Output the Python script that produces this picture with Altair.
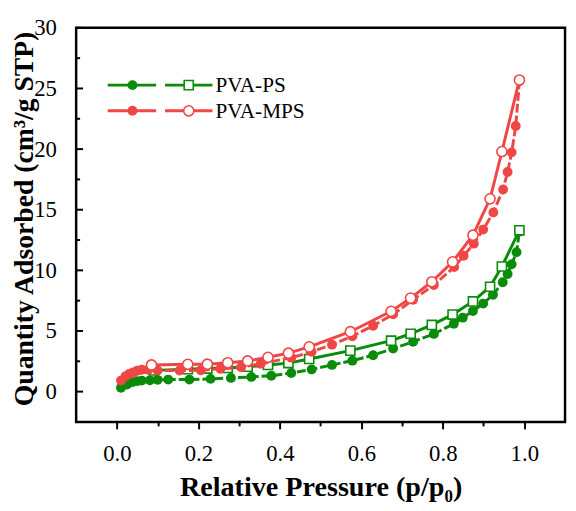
import altair as alt
import pandas as pd

# ---------------- data ----------------
ps_ads_x = [0.010, 0.025, 0.037, 0.049, 0.061, 0.081, 0.100, 0.126, 0.178, 0.230, 0.280, 0.330,
            0.379, 0.428, 0.478, 0.528, 0.578, 0.629, 0.678, 0.727, 0.778, 0.827, 0.849, 0.874,
            0.899, 0.923, 0.947, 0.959, 0.969, 0.981, 0.988]
ps_ads_y = [0.32, 0.59, 0.78, 0.86, 0.91, 0.93, 0.97, 0.99, 0.99, 1.05, 1.13, 1.21,
            1.31, 1.53, 1.83, 2.20, 2.55, 3.00, 3.55, 4.11, 4.76, 5.59, 6.10, 6.64,
            7.26, 7.98, 9.02, 9.70, 10.50, 11.50, 13.20]

ps_des_x = [0.988, 0.945, 0.916, 0.874, 0.824, 0.773, 0.721, 0.673, 0.573, 0.472, 0.421,
            0.371, 0.321, 0.272, 0.222, 0.174, 0.090]
ps_des_y = [13.30, 10.32, 8.65, 7.44, 6.35, 5.50, 4.77, 4.20, 3.38, 2.69, 2.35,
            2.20, 2.05, 1.95, 1.90, 1.85, 1.75]

mps_ads_x = [0.010, 0.021, 0.030, 0.040, 0.050, 0.061, 0.077, 0.100, 0.154, 0.206, 0.254, 0.305,
             0.353, 0.428, 0.478, 0.528, 0.578, 0.629, 0.678, 0.727, 0.778, 0.828, 0.851, 0.876,
             0.899, 0.924, 0.948, 0.959, 0.969, 0.979, 0.988]
mps_ads_y = [0.91, 1.26, 1.45, 1.59, 1.72, 1.80, 1.80, 1.74, 1.74, 1.76, 1.88, 2.00,
             2.30, 2.80, 3.28, 3.87, 4.57, 5.43, 6.37, 7.58, 8.79, 10.27, 11.20, 12.20,
             13.36, 14.78, 16.67, 18.12, 19.73, 21.90, 25.60]

mps_des_x = [0.988, 0.945, 0.916, 0.874, 0.824, 0.773, 0.721, 0.673, 0.573, 0.472, 0.421,
             0.371, 0.321, 0.272, 0.222, 0.174, 0.085]
mps_des_y = [25.70, 19.80, 15.90, 12.90, 10.70, 9.06, 7.71, 6.62, 4.94, 3.69, 3.17,
             2.83, 2.53, 2.38, 2.26, 2.25, 2.20]

series_names = ["PVA-PS", "PVA-MPS"]
x_ticks = [0.0, 0.1, 0.2, 0.3, 0.4, 0.5, 0.6, 0.7, 0.8, 0.9, 1.0]
y_major = [0, 5, 10, 15, 20, 25, 30]
y_minor = [2.5, 7.5, 12.5, 17.5, 22.5, 27.5]

GREEN = "#0a8c0a"
RED = "#f04646"
FONT = "Liberation Serif"
DOT = 100
OPEN_C = 105
SQ = 85

W, H = 495, 399
xscale = alt.Scale(domain=[-0.1, 1.1], nice=False, zero=False)
yscale = alt.Scale(domain=[-2.5, 30], nice=False, zero=False)

xaxis = alt.Axis(
    title="Relative Pressure (p/p₀)", values=x_ticks,
    labelExpr="round(datum.value*10) % 2 == 0 ? format(datum.value, '.1f') : ''",
    tickSize={"condition": {"test": "round(datum.value*10) % 2 == 0", "value": 7}, "value": 4},
    tickWidth=2, tickColor="black", domain=False, grid=False,
    labelFont=FONT, labelFontSize=23, labelColor="black", labelPadding=14,
    titleFont=FONT, titleFontSize=28.5, titleFontWeight="bold", titleColor="black", titlePadding=8,
)
yaxis = alt.Axis(
    title="Quantity Adsorbed (cm³/g STP)", values=y_major, ticks=False, tickSize=0,
    domain=False, grid=False,
    labelFont=FONT, labelFontSize=23, labelColor="black", labelPadding=20,
    titleFont=FONT, titleFontSize=28, titleFontWeight="bold", titleColor="black", titlePadding=-5,
    titleY=193,
)

X = lambda: alt.X("x:Q", scale=xscale, axis=xaxis)
Y = lambda: alt.Y("y:Q", scale=yscale, axis=yaxis)


def series(xs, ys, color, filled, shape, dashed):
    d = pd.DataFrame({"x": xs, "y": ys, "i": list(range(len(xs)))})
    line_kw = dict(color=color, strokeWidth=3)
    if dashed:
        line_kw["strokeDash"] = [9, 3]
    line = alt.Chart(d).mark_line(**line_kw).encode(x=X(), y=Y(), order="i:Q")
    if filled:
        pts = alt.Chart(d).mark_point(shape=shape, filled=True, size=DOT, color=color, opacity=1)
    else:
        pts = alt.Chart(d).mark_point(shape=shape, filled=True, size=OPEN_C if shape == "circle" else SQ,
                                      fill="white", stroke=color, strokeWidth=1.6, opacity=1)
    pts = pts.encode(x=X(), y=Y())
    return [line, pts]


layers = []
layers += series(ps_ads_x, ps_ads_y, GREEN, True, "circle", True)
layers += series(ps_des_x, ps_des_y, GREEN, False, "square", False)
layers += series(mps_ads_x, mps_ads_y, RED, True, "circle", True)
layers += series(mps_des_x, mps_des_y, RED, False, "circle", False)

# inward y ticks
ymaj = alt.Chart(pd.DataFrame({"y": y_major})).mark_rule(color="black", strokeWidth=2).encode(
    x=alt.value(0), x2=alt.value(7), y=Y())
ymin = alt.Chart(pd.DataFrame({"y": y_minor})).mark_rule(color="black", strokeWidth=2).encode(
    x=alt.value(0), x2=alt.value(4), y=Y())
layers += [ymaj, ymin]

# legend
one = pd.DataFrame({"k": [0]})
leg_rows = [(series_names[0], GREEN, "square", 58), (series_names[1], RED, "circle", 84)]
for name, color, shape, yy in leg_rows:
    layers.append(alt.Chart(one).mark_rule(color=color, strokeWidth=3).encode(
        x=alt.value(32), x2=alt.value(81), y=alt.value(yy)))
    layers.append(alt.Chart(one).mark_rule(color=color, strokeWidth=3).encode(
        x=alt.value(90), x2=alt.value(138), y=alt.value(yy)))
    layers.append(alt.Chart(one).mark_point(shape="circle", filled=True, size=DOT, color=color, opacity=1).encode(
        x=alt.value(57), y=alt.value(yy)))
    layers.append(alt.Chart(one).mark_point(shape=shape, filled=True, size=OPEN_C if shape == "circle" else SQ,
                                            fill="white", stroke=color, strokeWidth=1.6, opacity=1).encode(
        x=alt.value(114), y=alt.value(yy)))
    layers.append(alt.Chart(one).mark_text(align="left", baseline="middle", font=FONT, fontSize=21.5,
                                           color="black").encode(
        x=alt.value(141), y=alt.value(yy + 1), text=alt.value(name)))

chart = alt.layer(*layers).properties(
    width=W, height=H, background="white",
    autosize=alt.AutoSizeParams(type="none"),
    padding={"left": 69, "top": 17, "right": 3, "bottom": 79},
).configure_view(stroke="black", strokeWidth=2.5)

chart.save("out.html", embed_options={"renderer": "svg", "actions": False})
